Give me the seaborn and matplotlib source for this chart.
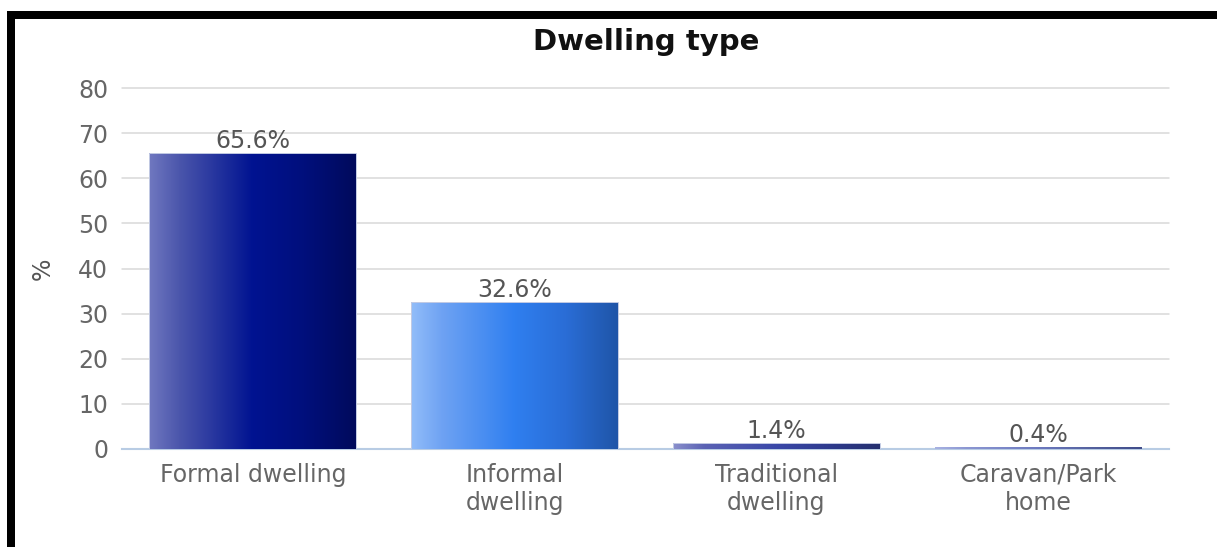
import numpy as np
import matplotlib
matplotlib.use("Agg")
import matplotlib.pyplot as plt
from matplotlib.colors import LinearSegmentedColormap, to_rgb
from matplotlib.patches import Rectangle
import seaborn as sns

# Dwelling type shares (percent of households)
categories = ["Formal dwelling", "Informal\ndwelling", "Traditional\ndwelling", "Caravan/Park\nhome"]
values = [65.6, 32.6, 1.4, 0.4]
y_ticks = [0, 10, 20, 30, 40, 50, 60, 70, 80]

# Horizontal gradient stops for each bar (left -> right)
stop_pos = [0.0, 0.15, 0.5, 0.75, 1.0]
bar_gradients = [
    ["#7078c0", "#4a55ab", "#001391", "#000f7c", "#000a5c"],
    ["#92bdf9", "#6ea2f3", "#2f7ff0", "#2a6dd6", "#1f55a8"],
    ["#8a90cc", "#5a62b4", "#3a48a8", "#2e3b8e", "#25306f"],
    ["#a8b2e2", "#8c97d2", "#6c79bf", "#55629f", "#404c8a"],
]
bar_edges = ["#c3cbe4", "#c3cbe4", "#c3cbe4", "none"]

sns.set_style("white")
plt.rcParams["font.family"] = ["DejaVu Sans"]

W, H = 1217, 547
fig = plt.figure(figsize=(W / 100, H / 100), dpi=100)
fig.patch.set_facecolor("white")

ax = fig.add_axes([122 / W, 1 - 449 / H, (1169 - 122) / W, (449 - 88) / H])
ax.set_facecolor("white")

sns.barplot(x=categories, y=values, ax=ax, width=0.79, color="#001391",
            saturation=1, zorder=3)

# Replace flat fills with horizontal gradients clipped to each bar
for patch, stops, edge in zip(ax.patches, bar_gradients, bar_edges):
    x0, y0 = patch.get_x(), patch.get_y()
    w, h = patch.get_width(), patch.get_height()
    cmap = LinearSegmentedColormap.from_list(
        "bar", list(zip(stop_pos, [to_rgb(c) for c in stops])))
    grad = np.linspace(0, 1, 256).reshape(1, -1)
    im = ax.imshow(grad, cmap=cmap, extent=[x0, x0 + w, y0, y0 + h],
                   aspect="auto", origin="lower", zorder=3, interpolation="bilinear")
    im.set_clip_path(patch)
    patch.set_facecolor("none")
    patch.set_edgecolor(edge)
    patch.set_linewidth(0.7)
    patch.set_zorder(4)

# Value labels above the bars
for cont in ax.containers:
    ax.bar_label(cont, labels=[f"{v}%" for v in cont.datavalues],
                 padding=0, fontsize=17, color="#555555", zorder=5)

ax.set_xlim(-0.5, len(categories) - 0.5)
ax.set_ylim(0, 80)
ax.set_yticks(y_ticks)

# Grid and axis styling
ax.yaxis.grid(True, color="#d9d9d9", linewidth=1.1, zorder=0)
for gl in ax.get_ygridlines():
    gl.set_clip_on(False)
ax.xaxis.grid(False)
ax.set_axisbelow(True)
for side in ["top", "right", "left"]:
    ax.spines[side].set_visible(False)
ax.spines["bottom"].set_color("#b8cce4")
ax.spines["bottom"].set_linewidth(1.5)
ax.spines["bottom"].set_zorder(2)

ax.tick_params(axis="y", length=0, pad=10, labelsize=17, labelcolor="#666666")
ax.tick_params(axis="x", length=4, width=1.2, color="#b8cce4", pad=6,
               labelsize=17, labelcolor="#666666")

ax.set_xlabel("")
ax.set_ylabel("%", fontsize=17, color="#555555")
ax.yaxis.set_label_coords((55 - 122) / (1169 - 122), 0.5)

fig.text(646 / W, 1 - 42 / H, "Dwelling type", ha="center", va="center",
         fontsize=21, fontweight="bold", color="#111111")

# Black frame along the top and left edges
fig.add_artist(Rectangle((7 / W, 1 - 19 / H), 1 - 7 / W, 8 / H,
                         transform=fig.transFigure, color="black", lw=0))
fig.add_artist(Rectangle((7 / W, 0), 8 / W, 1 - 11 / H,
                         transform=fig.transFigure, color="black", lw=0))

fig.savefig("out.png", dpi=100, facecolor="white")
